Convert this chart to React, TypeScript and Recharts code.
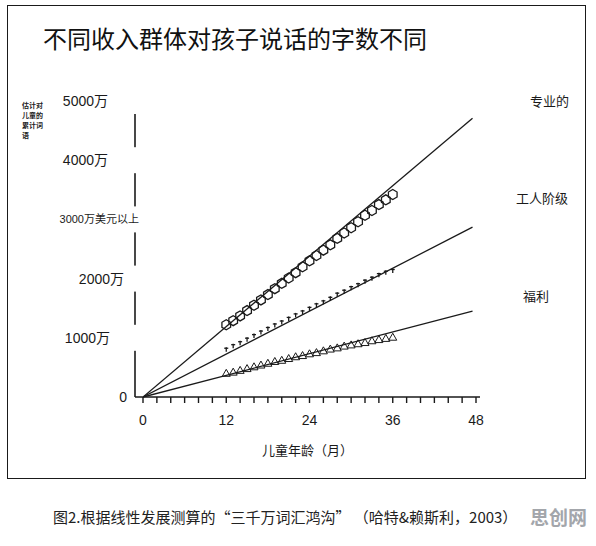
import { ComposedChart, Line, Scatter, XAxis, YAxis } from 'recharts';

// 月龄（12-36个月，每月一次观测）
const months = [12, 13, 14, 15, 16, 17, 18, 19, 20, 21, 22, 23, 24, 25, 26, 27, 28, 29, 30, 31, 32, 33, 34, 35, 36];
// 累计词语（万）
const professional = [1220, 1290, 1370, 1460, 1550, 1640, 1730, 1830, 1920, 2010, 2100, 2200, 2300, 2390, 2480, 2570, 2680, 2770, 2860, 2960, 3070, 3150, 3250, 3330, 3420];
const working = [790, 850, 900, 960, 1020, 1080, 1140, 1200, 1250, 1310, 1370, 1420, 1480, 1540, 1590, 1650, 1720, 1770, 1830, 1880, 1940, 1990, 2050, 2090, 2120];
const welfare = [400, 420, 450, 480, 510, 540, 570, 600, 620, 650, 680, 700, 730, 750, 780, 810, 830, 860, 880, 900, 920, 950, 970, 990, 1010];

// 线性拟合线
const fitMonths = [0, 47.5];
const professionalFit = [0, 4710];
const workingFit = [0, 2870];
const welfareFit = [0, 1450];

const yTicks = [0, 1000, 2000, 3000, 4000, 5000];
const yTickLabels = ['0', '1000万', '2000万', '3000万美元以上', '4000万', '5000万'];
const xTicks = [0, 2, 4, 6, 8, 10, 12, 14, 16, 18, 20, 22, 24, 26, 28, 30, 32, 34, 36, 38, 40, 42, 44, 46, 48];
const xLabelTicks = [0, 12, 24, 36, 48];

const toPoints = (xs: number[], ys: number[]) => xs.map((m, i) => ({ m, v: ys[i] }));

const NUM_FONT = '"Liberation Sans", "Noto Sans CJK SC", sans-serif';
const CJK_FONT = '"Noto Sans CJK SC", sans-serif';
const INK = '#1a1a1a';

// y轴标签各自的水平偏移和字号（原图标签排列不齐）
const yLabelDx = [-8, -25, -11, 4, -27, -27];
const yLabelSize = [14, 14, 14, 11, 14, 14];

function YTick(props: any) {
  const { y, payload } = props;
  const x = 135;
  const i = yTicks.indexOf(payload.value);
  return (
    <g>
      {payload.value !== 0 && <rect x={x - 5} y={y - 13} width={10} height={26} fill="#fff" />}
      <text x={x + yLabelDx[i]} y={y} textAnchor="end" dominantBaseline="central" fontSize={yLabelSize[i]} fontFamily={NUM_FONT} fill={INK}>
        {yTickLabels[i]}
      </text>
    </g>
  );
}

function XTick(props: any) {
  const { x, y, payload } = props;
  if (!xLabelTicks.includes(payload.value)) return null;
  return (
    <text x={x} y={y} dy="0.71em" textAnchor="middle" fontSize={14} fontFamily={NUM_FONT} fill={INK}>
      {payload.value}
    </text>
  );
}

function Hexagon(props: any) {
  const { cx, cy } = props;
  const r = 5;
  const pts = [0, 1, 2, 3, 4, 5].map((k) => {
    const a = (Math.PI / 3) * k + Math.PI / 6;
    return `${cx + r * Math.cos(a)},${cy + r * Math.sin(a)}`;
  }).join(' ');
  return <polygon points={pts} fill="none" stroke={INK} strokeWidth={1.3} />;
}

function Tack(props: any) {
  const { cx, cy } = props;
  return (
    <g stroke={INK} strokeWidth={1.3}>
      <line x1={cx - 2} y1={cy - 2} x2={cx + 2} y2={cy - 2} />
      <line x1={cx} y1={cy - 3} x2={cx} y2={cy + 1.5} />
    </g>
  );
}

function Tri(props: any) {
  const { cx, cy } = props;
  return <polygon points={`${cx - 4},${cy + 3} ${cx + 4},${cy + 3} ${cx},${cy - 4}`} fill="none" stroke={INK} strokeWidth={1} />;
}

const abs = (left: number, top: number, extra: any = {}): any => ({ position: 'absolute', left, top, whiteSpace: 'nowrap', ...extra });

export default function App() {
  return (
    <div style={{ position: 'absolute', left: 0, top: 0, width: 596, height: 546, background: '#fff', overflow: 'hidden' }}>
      <div style={{ position: 'absolute', left: 7, top: 5, width: 579, height: 474, border: `1.6px solid ${INK}`, boxSizing: 'border-box' }} />
      <div style={abs(43, 24, { fontFamily: CJK_FONT, fontSize: 24, lineHeight: '28px', color: '#111' })}>不同收入群体对孩子说话的字数不同</div>

      <div style={abs(22, 100, { fontFamily: CJK_FONT, fontSize: 7, lineHeight: '10px', fontWeight: 700, color: '#222', width: 24, whiteSpace: 'normal' })}>
        估计对<br />儿童的<br />累计词<br />语
      </div>

      <div style={abs(530, 92, { fontFamily: CJK_FONT, fontSize: 13, lineHeight: '18px', color: INK })}>专业的</div>
      <div style={abs(516, 189, { fontFamily: CJK_FONT, fontSize: 13, lineHeight: '18px', color: INK })}>工人阶级</div>
      <div style={abs(523, 287, { fontFamily: CJK_FONT, fontSize: 13, lineHeight: '18px', color: INK })}>福利</div>

      <div style={abs(262, 441, { fontFamily: CJK_FONT, fontSize: 13, lineHeight: '18px', color: INK })}>儿童年龄（月）</div>

      <div style={{ position: 'absolute', left: 0, top: 0 }}>
        <ComposedChart width={596} height={546} margin={{ top: 101, right: 116, bottom: 119, left: 125 }}>
          <XAxis
            type="number"
            dataKey="m"
            domain={[0, 48]}
            ticks={xTicks}
            interval={0}
            padding={{ left: 8, right: 4 }}
            height={30}
            tickSize={6}
            tickMargin={12}
            tick={<XTick />}
            axisLine={{ stroke: INK, strokeWidth: 1.6 }}
            tickLine={{ stroke: INK, strokeWidth: 1.4 }}
            allowDataOverflow
          />
          <YAxis
            type="number"
            dataKey="v"
            domain={[0, 5000]}
            ticks={yTicks}
            interval={0}
            width={10}
            tickSize={0}
            tickMargin={0}
            tickLine={false}
            tick={<YTick />}
            axisLine={{ stroke: INK, strokeWidth: 1.6 }}
          />
          <Line data={toPoints(fitMonths, professionalFit)} dataKey="v" stroke={INK} strokeWidth={1.3} dot={false} isAnimationActive={false} />
          <Line data={toPoints(fitMonths, workingFit)} dataKey="v" stroke={INK} strokeWidth={1.3} dot={false} isAnimationActive={false} />
          <Line data={toPoints(fitMonths, welfareFit)} dataKey="v" stroke={INK} strokeWidth={1.3} dot={false} isAnimationActive={false} />
          <Scatter data={toPoints(months, professional)} dataKey="v" shape={<Hexagon />} isAnimationActive={false} />
          <Scatter data={toPoints(months, working)} dataKey="v" shape={<Tack />} isAnimationActive={false} />
          <Scatter data={toPoints(months, welfare)} dataKey="v" shape={<Tri />} isAnimationActive={false} />
        </ComposedChart>
      </div>

      <div style={abs(53, 508, { fontFamily: CJK_FONT, fontSize: 15, lineHeight: '18px', color: '#222' })}>
        图2.根据线性发展测算的“三千万词汇鸿沟” （哈特&amp;赖斯利，2003）
      </div>
      <div style={abs(530, 506, { fontFamily: CJK_FONT, fontSize: 19, lineHeight: '22px', fontWeight: 700, color: '#a3a6ab' })}>思创网</div>
    </div>
  );
}
